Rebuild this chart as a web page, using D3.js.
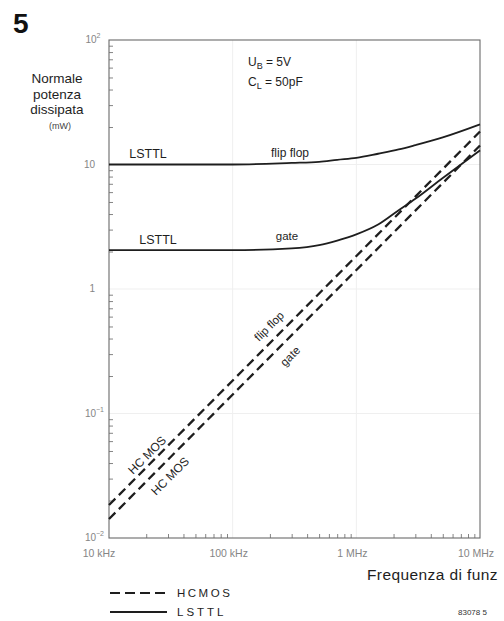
<!DOCTYPE html>
<html>
<head>
<meta charset="utf-8">
<script src="https://cdn.jsdelivr.net/npm/d3@7"></script>
<style>
  body { margin: 0; background: #fff; }
  svg { display: block; font-family: "Liberation Sans", Arial, sans-serif; }
</style>
</head>
<body>
<svg id="chart" width="504" height="621"></svg>
<script>
// data (frequency in Hz, power in mW)
const freqs = [1e4, 1e5, 3e5, 5e5, 7e5, 1e6, 1.5e6, 2.2e6, 3e6, 5e6, 1e7];
const lsttlFlipFlop = [10, 10, 10.3, 10.5, 10.9, 11.3, 12.2, 13.2, 14.3, 16.5, 21];
const lsttlGate = [2.05, 2.05, 2.12, 2.25, 2.45, 2.75, 3.3, 4.3, 5.3, 7.8, 13];

const hcmosFreqs = [1e4, 1e7];
const hcmosFlipFlop = [0.0184, 18.4];
const hcmosGate = [0.0142, 14.2];

const xTicks = [1e4, 1e5, 1e6, 1e7];
const xTickLabels = ['10 kHz', '100 kHz', '1 MHz', '10 MHz'];
const yTicks = [1e2, 10, 1, 1e-1, 1e-2];
const yTickBase = ['10', '10', '1', '10', '10'];
const yTickExp = ['2', '', '', '−1', '−2'];

////////////////////////////////////////////////////////
const svg = d3.select('#chart');
const ink = '#1e1e1e';
const grey = '#858585';

const x = d3.scaleLog().domain([1e4, 1e7]).range([109, 480]);
const y = d3.scaleLog().domain([1e-2, 1e2]).range([538, 40]);

// faint decade grid (almost washed out in the print)
const grid = svg.append('g').attr('stroke', '#efefef').attr('stroke-width', 1);
grid.selectAll('.gx').data(xTicks.slice(1, -1)).enter().append('line')
    .attr('x1', d => x(d)).attr('x2', d => x(d))
    .attr('y1', y(1e-2)).attr('y2', y(1e2));
grid.selectAll('.gy').data(yTicks.slice(1, -1)).enter().append('line')
    .attr('x1', x(1e4)).attr('x2', x(1e7))
    .attr('y1', d => y(d)).attr('y2', d => y(d));

// minor ticks
const minorX = [], minorY = [];
[1e4, 1e5, 1e6].forEach(d => { for (let k = 2; k < 10; k++) minorX.push(d * k); });
[1e-2, 1e-1, 1, 10].forEach(d => { for (let k = 2; k < 10; k++) minorY.push(d * k); });

svg.append('g')
    .attr('transform', 'translate(0,' + y(1e-2) + ')')
    .call(d3.axisTop(x).tickValues(minorX).tickSize(4).tickFormat(''))
    .call(g => g.select('.domain').remove())
    .selectAll('line').attr('stroke', grey);

svg.append('g')
    .attr('transform', 'translate(' + x(1e4) + ',0)')
    .call(d3.axisRight(y).tickValues(minorY).tickSize(4).tickFormat(''))
    .call(g => g.select('.domain').remove())
    .selectAll('line').attr('stroke', grey);

// frame
svg.append('rect')
    .attr('x', x(1e4)).attr('y', y(1e2))
    .attr('width', x(1e7) - x(1e4)).attr('height', y(1e-2) - y(1e2))
    .attr('fill', 'none').attr('stroke', '#6a6a6a').attr('stroke-width', 1.1);

// x tick labels
svg.selectAll('.xl').data(xTicks).enter().append('text')
    .attr('x', (d, i) => x(d) + (i === 0 ? -10 : -4))
    .attr('y', 557)
    .attr('text-anchor', 'middle')
    .attr('font-size', 10.5)
    .attr('fill', grey)
    .text((d, i) => xTickLabels[i]);

// y tick labels with superscripts
const yl = svg.selectAll('.yl').data(yTicks).enter().append('text')
    .attr('x', 95)
    .attr('y', d => y(d) + 3)
    .attr('text-anchor', 'end')
    .attr('font-size', 10)
    .attr('fill', grey);
yl.append('tspan').text((d, i) => yTickBase[i]);
yl.append('tspan').attr('dy', -5).attr('font-size', 7).text((d, i) => yTickExp[i]);
yl.attr('transform', (d, i) => yTickExp[i] ? 'translate(' + (yTickExp[i].length * 3.5 + 2) + ',0)' : null);

// curves
const solid = d3.line().x((d, i) => x(freqs[i])).y(d => y(d)).curve(d3.curveMonotoneX);
const straight = d3.line().x((d, i) => x(hcmosFreqs[i])).y(d => y(d));

[lsttlFlipFlop, lsttlGate].forEach(s => {
    svg.append('path').attr('d', solid(s))
        .attr('fill', 'none').attr('stroke', ink).attr('stroke-width', 1.8);
});
[hcmosFlipFlop, hcmosGate].forEach(s => {
    svg.append('path').attr('d', straight(s))
        .attr('fill', 'none').attr('stroke', ink).attr('stroke-width', 2.3)
        .attr('stroke-dasharray', '9,5');
});

// curve labels
function label(txt, px, py, rot, size) {
    svg.append('text')
        .attr('transform', 'translate(' + px + ',' + py + ') rotate(' + (rot || 0) + ')')
        .attr('text-anchor', 'middle')
        .attr('font-size', size || 12)
        .attr('fill', ink)
        .text(txt);
}
label('LSTTL', 148, 158, 0, 12.5);
label('flip flop', 290, 157, 0, 12);
label('LSTTL', 158, 244, 0, 12.5);
label('gate', 287, 240, 0, 11.5);

label('flip flop', 272, 329, -45, 11.5);
label('gate', 293, 359, -45, 11.5);
label('HC MOS', 150, 458, -45, 12);
label('HC MOS', 173, 479, -45, 12);

// conditions
const ub = svg.append('text').attr('x', 248).attr('y', 66).attr('font-size', 12).attr('fill', ink);
ub.append('tspan').text('U');
ub.append('tspan').attr('dy', 3).attr('font-size', 9).text('B');
ub.append('tspan').attr('dy', -3).text(' = 5V');
const cl = svg.append('text').attr('x', 248).attr('y', 86).attr('font-size', 12).attr('fill', ink);
cl.append('tspan').text('C');
cl.append('tspan').attr('dy', 3).attr('font-size', 9).text('L');
cl.append('tspan').attr('dy', -3).text(' = 50pF');

// figure number and axis titles
svg.append('text').attr('x', 13).attr('y', 33)
    .attr('font-size', 28).attr('font-weight', 'bold').attr('fill', '#111').text('5');

const yTitle = ['Normale', 'potenza', 'dissipata'];
svg.selectAll('.yt').data(yTitle).enter().append('text')
    .attr('x', 57).attr('y', (d, i) => 83 + i * 15.5)
    .attr('text-anchor', 'middle').attr('font-size', 13.5).attr('fill', ink)
    .text(d => d);
svg.append('text').attr('x', 60).attr('y', 129)
    .attr('text-anchor', 'middle').attr('font-size', 9).attr('fill', '#444').text('(mW)');

svg.append('text').attr('x', 367).attr('y', 580)
    .attr('font-size', 15.5).attr('letter-spacing', 0.4).attr('fill', ink).text('Frequenza di funz');

// legend
svg.append('line').attr('x1', 110).attr('x2', 167).attr('y1', 593).attr('y2', 593)
    .attr('stroke', ink).attr('stroke-width', 2.2).attr('stroke-dasharray', '10,5');
svg.append('line').attr('x1', 110).attr('x2', 167).attr('y1', 612).attr('y2', 612)
    .attr('stroke', ink).attr('stroke-width', 1.8);
svg.append('text').attr('x', 177).attr('y', 597).attr('font-size', 11.5)
    .attr('letter-spacing', 2.5).attr('fill', ink).text('HCMOS');
svg.append('text').attr('x', 177).attr('y', 616).attr('font-size', 11.5)
    .attr('letter-spacing', 3).attr('fill', ink).text('LSTTL');

svg.append('text').attr('x', 458).attr('y', 615).attr('font-size', 8)
    .attr('fill', '#333').text('83078 5');
</script>
</body>
</html>
